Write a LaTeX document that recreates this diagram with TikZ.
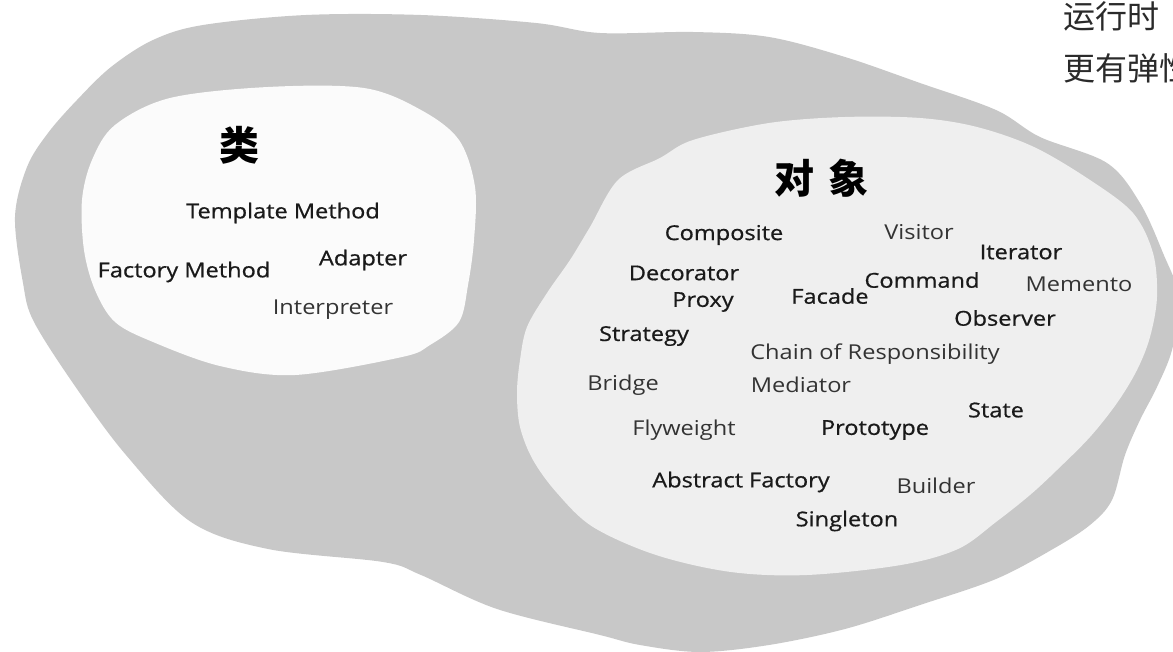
\documentclass[tikz,border=0pt]{standalone}
\usepackage{fontspec}
\setmainfont{Open Sans}[FakeStretch=1.15]
\newfontfamily\patbold{Open Sans}[FakeStretch=1.15,FakeBold=0.7]
\newfontfamily\cjk{Noto Sans CJK SC}
\definecolor{outerg}{HTML}{C8C8C8}
\definecolor{objg}{HTML}{EFEFEF}
\definecolor{classw}{HTML}{FBFBFB}
\definecolor{dk}{HTML}{1A1A1A}
\definecolor{lt}{HTML}{333333}
\definecolor{notec}{HTML}{2A2A2A}
\begin{document}
\begin{tikzpicture}[x=1pt,y=-1pt,
  pat/.style={font=\patbold\fontsize{20.5}{22}\selectfont, text=dk, inner sep=0pt},
  patl/.style={font=\rmfamily\fontsize{20.5}{22}\selectfont, text=lt, inner sep=0pt},
  title/.style={font=\cjk\bfseries\fontsize{40}{40}\selectfont, text=black, inner sep=0pt},
  note/.style={font=\cjk\fontsize{32}{32}\selectfont, text=notec, inner sep=0pt, anchor=west}]
\useasboundingbox (0,0) rectangle (1173,652);
\clip (0,0) rectangle (1173,652);
% outer gray blob
\fill[outerg] plot[smooth cycle, tension=0.55] coordinates {
 (48,133) (77,100) (111,67) (153,40) (203,25) (306,15) (421,15) (536,23) (600,33)
 (693,32) (769,37) (845,57) (920,83) (996,110) (1040,137) (1107,163) (1140,203)
 (1163,253) (1180,300) (1172,350) (1157,387) (1140,420) (1125,455) (1112,500)
 (1090,525) (1053,549) (996,579) (920,605) (845,629) (769,645) (700,652) (640,645)
 (600,635) (497,609) (421,575) (383,562) (268,549) (191,522) (126,455) (77,389)
 (34,322) (23,283) (15,217) (27,167)};
% object blob
\fill[objg] plot[smooth cycle, tension=0.55] coordinates {
 (618,180) (660,158) (693,140) (769,123) (845,117) (920,118) (977,127) (1034,147)
 (1090,180) (1133,213) (1153,253) (1157,297) (1150,337) (1137,370) (1117,403)
 (1090,437) (1057,470) (1030,495) (996,522) (958,549) (901,565) (807,575) (731,572)
 (656,555) (593,527) (557,493) (533,460) (520,427) (517,393) (520,360) (527,327)
 (547,293) (570,260) (590,227)};
% class blob
\fill[classw] plot[smooth cycle, tension=0.55] coordinates {
 (82,200) (92,160) (115,125) (170,98) (268,87) (364,88) (421,110) (459,140)
 (475,187) (474,240) (468,285) (459,322) (430,345) (402,357) (295,375) (220,366)
 (153,342) (115,322) (95,290) (84,250)};
% titles
\node[title] (lei) at (239,145) {类};
\node[title] (duixiang) at (821,178) {对\hspace{14pt}象};
% class patterns
\node[pat] (tm) at (283,213) {Template Method};
\node[pat] (fm) at (184,272) {Factory Method};
\node[pat] (ad) at (363,260) {Adapter};
\node[patl] (ip) at (333,310) {Interpreter};
% object patterns
\node[pat]  (comp) at (724,235) {Composite};
\node[patl] (vis)  at (919,232) {Visitor};
\node[pat]  (it)   at (1021,252) {Iterator};
\node[pat]  (dec)  at (684,273) {Decorator};
\node[pat]  (cmd)  at (922,280) {Command};
\node[patl] (mem)  at (1079,284) {Memento};
\node[pat]  (prx)  at (703,302) {Proxy};
\node[pat]  (fac)  at (830,296) {Facade};
\node[pat]  (obs)  at (1005,318) {Observer};
\node[pat]  (str)  at (644,336) {Strategy};
\node[patl] (cor)  at (875,354) {Chain of Responsibility};
\node[patl] (bri)  at (623,385) {Bridge};
\node[patl] (med)  at (801,385) {Mediator};
\node[pat]  (sta)  at (996,410) {State};
\node[patl] (fly)  at (684,430) {Flyweight};
\node[pat]  (pro)  at (875,430) {Prototype};
\node[pat]  (abf)  at (741,482) {Abstract Factory};
\node[patl] (bld)  at (936,486) {Builder};
\node[pat]  (sgl)  at (847,521) {Singleton};
% cut-off note at top right
\node[note] (n1) at (1063,16) {运行时};
\node[note] (n2) at (1063,68) {更有弹性};
\end{tikzpicture}
\end{document}
